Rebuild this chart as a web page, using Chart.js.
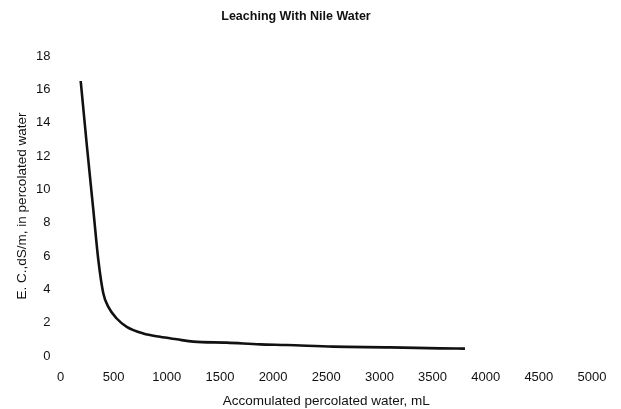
<!DOCTYPE html>
<html>
<head>
<meta charset="utf-8">
<script src="https://cdn.jsdelivr.net/npm/chart.js@4/dist/chart.umd.min.js"></script>
<style>
  html, body { margin: 0; padding: 0; background: #ffffff; }
  #wrap { width: 621px; height: 409px; position: relative; }
</style>
</head>
<body>
<div id="wrap"><canvas id="c" width="621" height="409"></canvas></div>
<script>
// Data
const percolatedWater = [190, 246, 309, 356, 403, 450, 529, 623, 779, 936, 1093, 1249, 1563, 1877, 2128, 2566, 3100, 3570, 3805];
const ecValues        = [16.5, 12.75, 8.75, 5.75, 3.75, 2.95, 2.25, 1.75, 1.35, 1.15, 1.0, 0.86, 0.8, 0.7, 0.66, 0.56, 0.52, 0.46, 0.44];
const xTicks = [0, 500, 1000, 1500, 2000, 2500, 3000, 3500, 4000, 4500, 5000];
const yTicks = [0, 2, 4, 6, 8, 10, 12, 14, 16, 18];

const chartTitle = 'Leaching With Nile Water';
const xTitle = 'Accomulated percolated water, mL';
const yTitle = 'E. C.,dS/m, in percolated water';

const points = percolatedWater.map((x, i) => ({ x: x, y: ecValues[i] }));
const FONT = '"Liberation Sans", Arial, sans-serif';

new Chart(document.getElementById('c'), {
  type: 'line',
  data: {
    datasets: [{
      data: points,
      borderColor: '#111111',
      borderWidth: 2.6,
      pointRadius: 0,
      fill: false,
      cubicInterpolationMode: 'monotone'
    }]
  },
  options: {
    responsive: false,
    animation: false,
    devicePixelRatio: 1,
    layout: { padding: { left: 0, right: 29, top: 0, bottom: 0 } },
    plugins: {
      legend: { display: false },
      tooltip: { enabled: false },
      title: {
        display: true,
        text: chartTitle,
        color: '#111111',
        font: { family: FONT, size: 12.5, weight: 'bold' },
        padding: { top: 9, bottom: 32 }
      }
    },
    scales: {
      x: {
        type: 'linear',
        min: 0,
        max: 5000,
        grid: { display: false, drawTicks: false },
        border: { display: false },
        afterBuildTicks: (s) => { s.ticks = xTicks.map(v => ({ value: v })); },
        afterFit: (s) => { s.height = 53; },
        ticks: {
          color: '#111111',
          padding: 14,
          maxRotation: 0,
          autoSkip: false,
          font: { family: FONT, size: 13 },
          callback: (v) => String(v)
        },
        title: {
          display: true,
          text: xTitle,
          color: '#111111',
          font: { family: FONT, size: 13.5 },
          padding: { top: 4, bottom: 0 }
        }
      },
      y: {
        type: 'linear',
        min: 0,
        max: 18,
        grid: { display: false, drawTicks: false },
        border: { display: false },
        afterBuildTicks: (s) => { s.ticks = yTicks.map(v => ({ value: v })); },
        afterFit: (s) => { s.width = 60.5; },
        ticks: {
          color: '#111111',
          padding: 10,
          autoSkip: false,
          font: { family: FONT, size: 13 },
          callback: (v) => String(v)
        },
        title: {
          display: true,
          text: yTitle,
          color: '#111111',
          font: { family: FONT, size: 13.5 },
          padding: { top: 14, bottom: 4 }
        }
      }
    }
  }
});
</script>
</body>
</html>
